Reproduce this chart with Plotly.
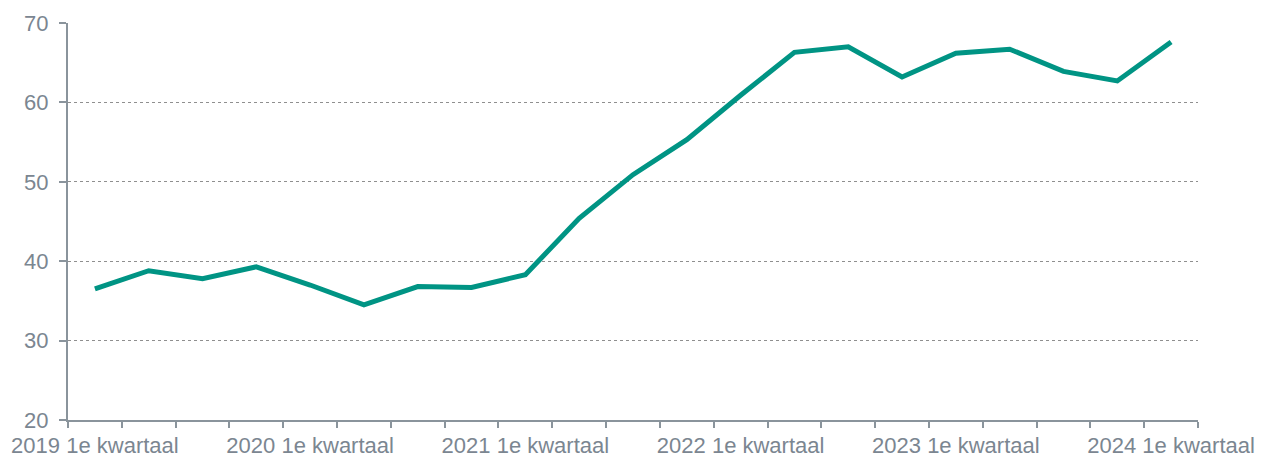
import plotly.graph_objects as go

quarters = [f"{y} {q}e kwartaal" for y in range(2019, 2025) for q in range(1, 5)][:21]
values = [36.5, 38.8, 37.8, 39.3, 37.0, 34.5, 36.8, 36.7, 38.3, 45.4, 50.9, 55.3,
          60.9, 66.3, 67.0, 63.2, 66.2, 66.7, 63.9, 62.7, 67.6]
label_every = 4
y_ticks = [20, 30, 40, 50, 60, 70]

idx = list(range(len(quarters)))
label_pos = idx[::label_every]
label_txt = [quarters[i] for i in label_pos]
boundaries = [i - 0.5 for i in idx] + [idx[-1] + 0.5]

TXT = "#7b8691"
AX = "#8a949c"
LINE = "#009484"
FS = 22

fig = go.Figure()
fig.add_trace(go.Scatter(x=idx, y=values, mode="lines",
                         line=dict(color=LINE, width=5), hoverinfo="skip",
                         showlegend=False))
fig.add_trace(go.Scatter(x=[idx[0]], y=[values[0]], xaxis="x2", mode="markers",
                         marker=dict(opacity=0), showlegend=False, hoverinfo="skip"))

rng = [-0.5, len(idx) - 0.5]
fig.update_layout(
    width=1266, height=457,
    margin=dict(l=68, r=68, t=23, b=37, autoexpand=False),
    paper_bgcolor="white", plot_bgcolor="white",
    font=dict(family="Liberation Sans, Arial", size=FS, color=TXT),
    xaxis=dict(range=rng, tickmode="array", tickvals=label_pos, ticktext=label_txt,
               ticks="outside", ticklen=6, tickcolor="rgba(0,0,0,0)",
               showgrid=False, zeroline=False, showline=False, automargin=False,
               tickfont=dict(size=FS, color=TXT)),
    xaxis2=dict(range=rng, overlaying="x", side="bottom", anchor="y",
                tickmode="array", tickvals=boundaries, showticklabels=False,
                ticks="outside", ticklen=6, tickwidth=2, tickcolor=AX,
                showgrid=False, zeroline=False, automargin=False,
                showline=True, linecolor=AX, linewidth=2),
    yaxis=dict(range=[20, 70], tickmode="array", tickvals=y_ticks,
               ticks="outside", ticklen=7, tickwidth=2, tickcolor=AX,
               showline=True, linecolor=AX, linewidth=2, automargin=False,
               showgrid=True, gridcolor="#8f8f8f", gridwidth=1, griddash="dot",
               zeroline=False, ticklabelstandoff=6,
               tickfont=dict(size=FS, color=TXT)),
)
fig.write_html("out.html", config={"displayModeBar": False},
               post_script="document.body.style.margin='0';document.body.style.overflow='hidden';")
